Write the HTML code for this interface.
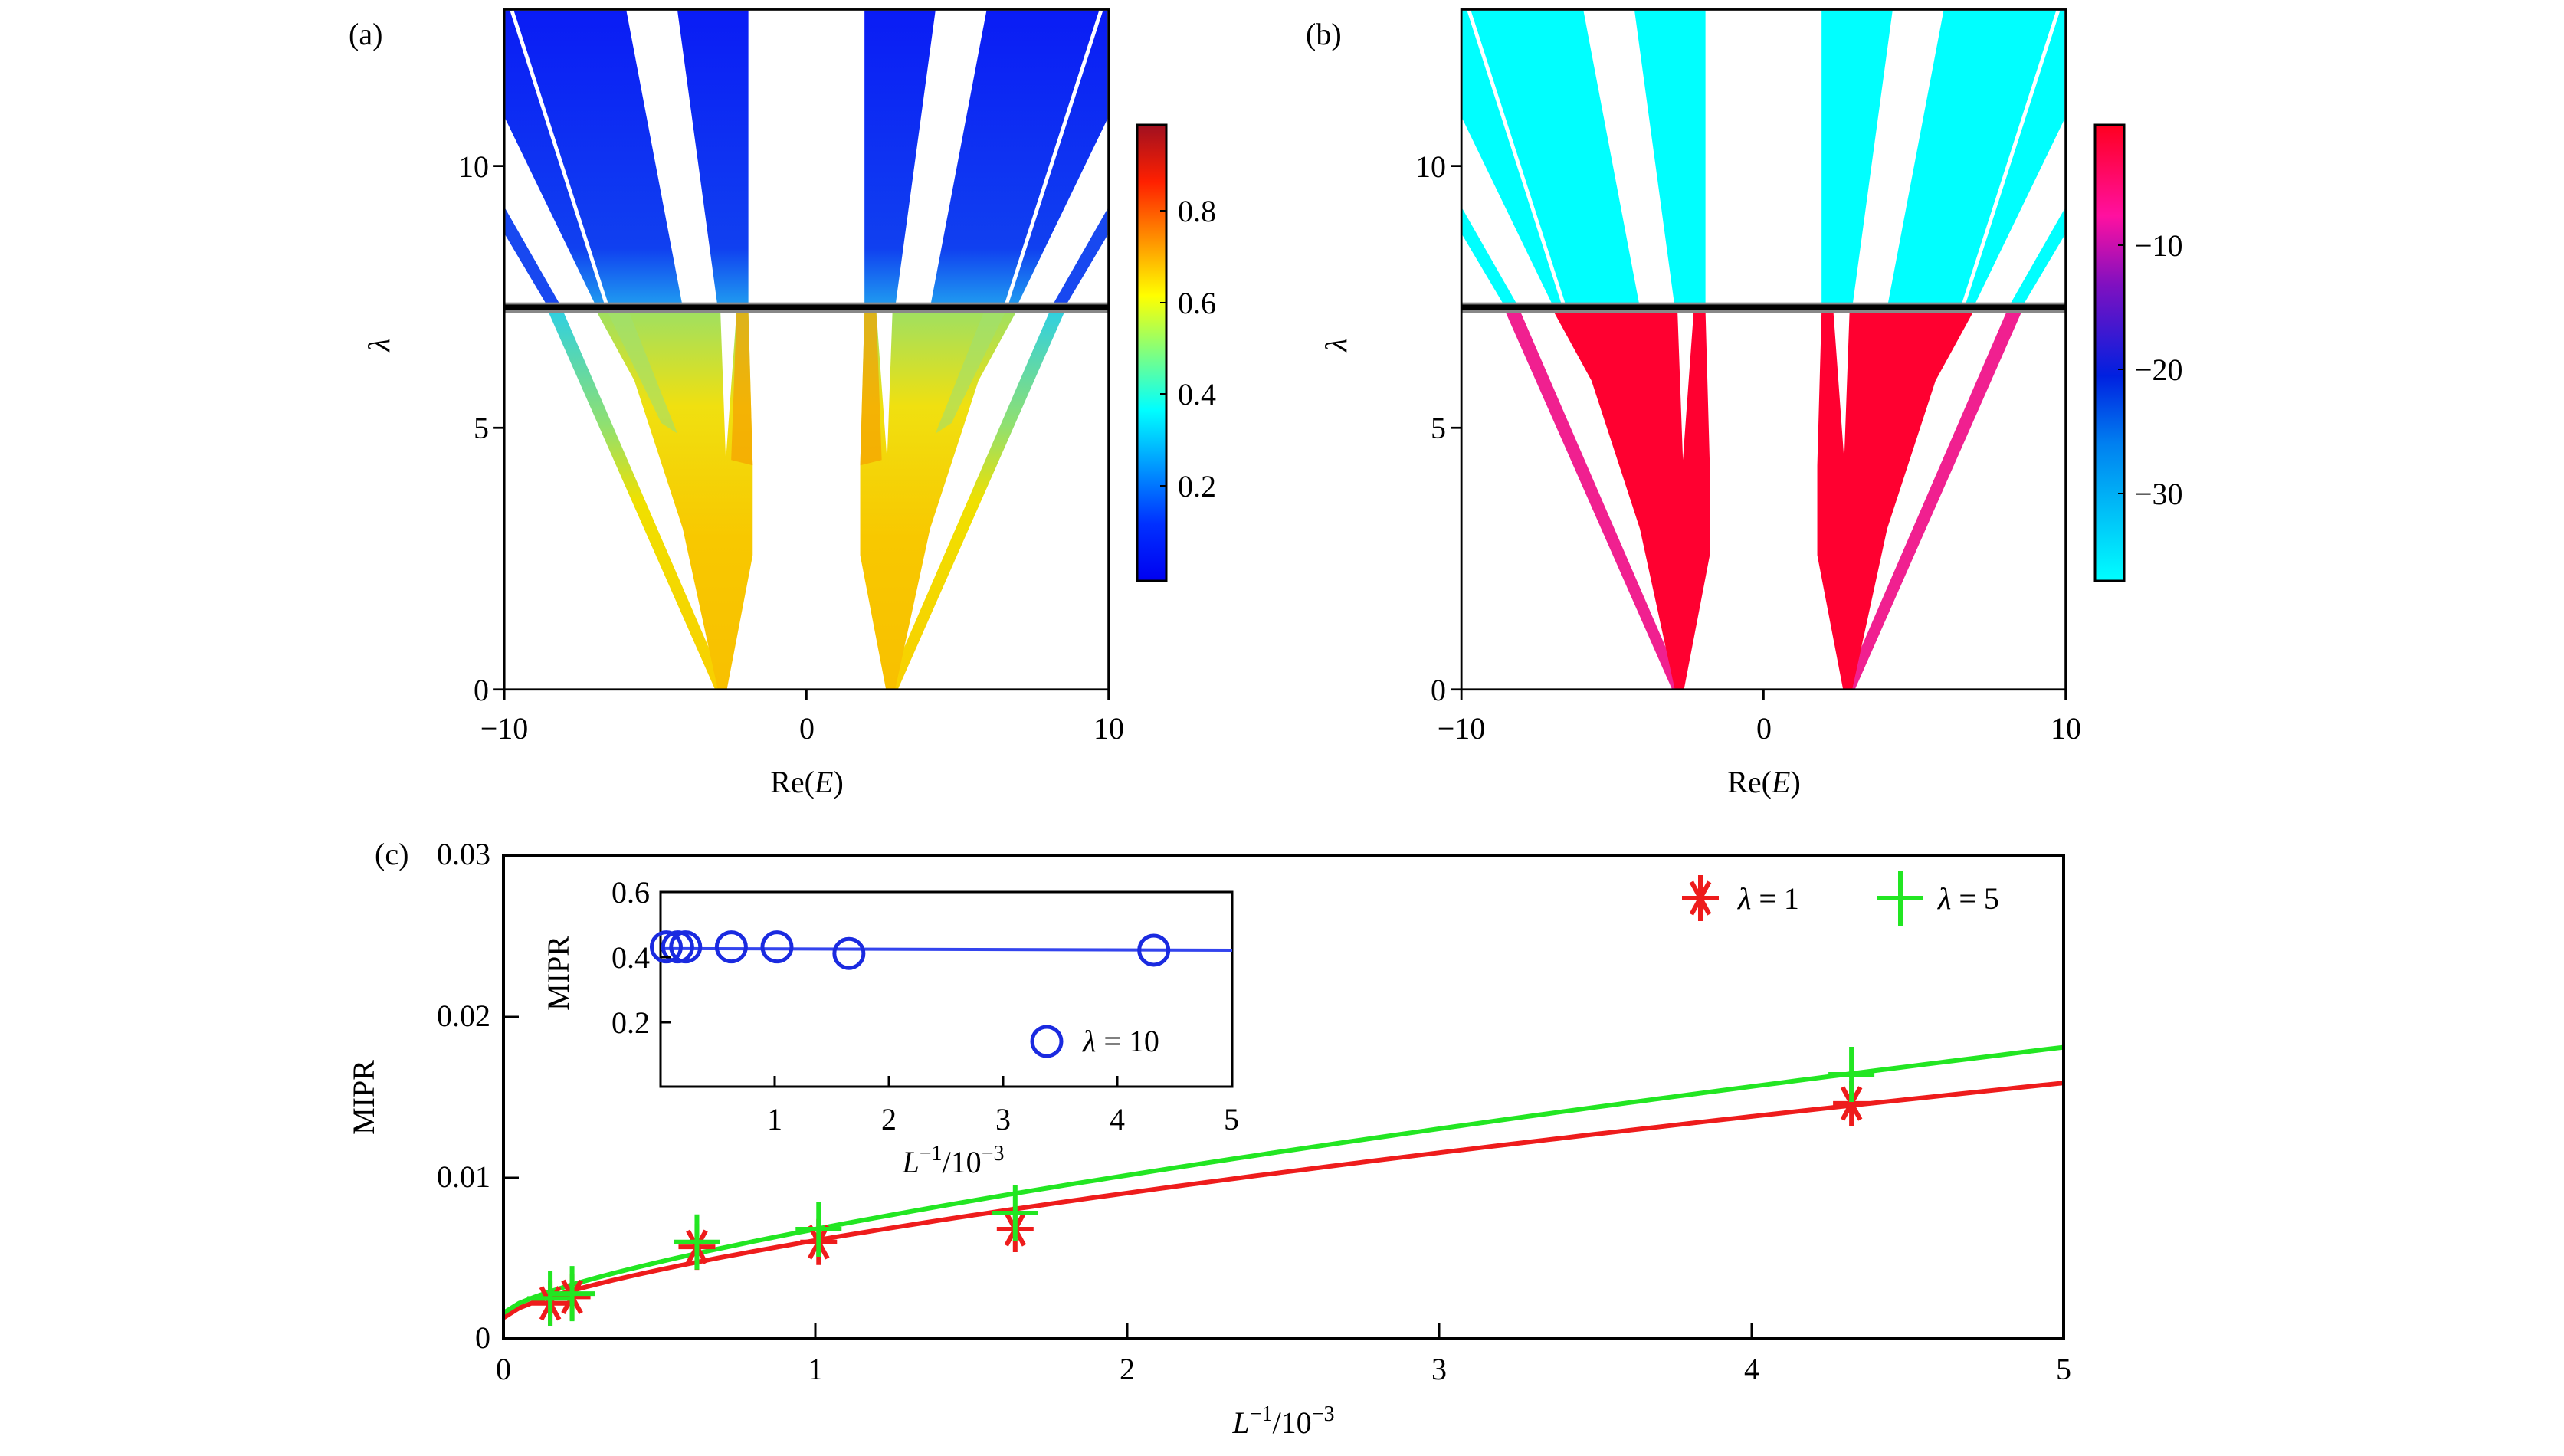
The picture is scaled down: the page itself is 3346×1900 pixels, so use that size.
<!DOCTYPE html>
<html><head><meta charset="utf-8"><style>
html,body{margin:0;padding:0;background:#fff}
svg{display:block}
text{font-family:"Liberation Serif",serif;fill:#000}
</style></head><body>
<svg id="s" width="3346" height="1900" viewBox="0 0 3346 1900" xmlns="http://www.w3.org/2000/svg">
<defs>
<linearGradient id="blueA" x1="0" y1="0" x2="0" y2="1"><stop offset="0" stop-color="#0a1cf5"/><stop offset="0.8" stop-color="#1040f0"/><stop offset="1" stop-color="#20a0f0"/></linearGradient>
<linearGradient id="yelA" x1="0" y1="0" x2="0" y2="1"><stop offset="0" stop-color="#a0e060"/><stop offset="0.25" stop-color="#f0e010"/><stop offset="0.6" stop-color="#f8c800"/><stop offset="1" stop-color="#f8c000"/></linearGradient>
<linearGradient id="thinA" x1="0" y1="0" x2="0" y2="1"><stop offset="0" stop-color="#30d0e0"/><stop offset="0.3" stop-color="#90e070"/><stop offset="0.5" stop-color="#f0e000"/><stop offset="1" stop-color="#f8d000"/></linearGradient>
<linearGradient id="jet" x1="0" y1="1" x2="0" y2="0"><stop offset="0" stop-color="#0000f0"/><stop offset="0.125" stop-color="#0030ff"/><stop offset="0.375" stop-color="#00ffff"/><stop offset="0.625" stop-color="#ffff00"/><stop offset="0.875" stop-color="#ff2000"/><stop offset="1" stop-color="#a01020"/></linearGradient>
<linearGradient id="cb2" x1="0" y1="1" x2="0" y2="0"><stop offset="0" stop-color="#00ffff"/><stop offset="0.3" stop-color="#0080f0"/><stop offset="0.45" stop-color="#0020e0"/><stop offset="0.65" stop-color="#8010c0"/><stop offset="0.8" stop-color="#ff10a0"/><stop offset="1" stop-color="#ff0020"/></linearGradient>
<clipPath id="clipP"><rect x="368" y="18" width="1124" height="1286"/></clipPath>
<g id="halfA">
 <polygon points="370,20 595,20 700,582 540,582 370,225" fill="url(#blueA)"/>
 <polygon points="690,20 822,20 822,582 765,582" fill="url(#blueA)"/>
 <polygon points="370,395 370,445 450,582 475,582" fill="#1848f0"/>
 <line x1="382" y1="20" x2="560" y2="582" stroke="#fff" stroke-width="7"/>
 <polygon points="450,590 478,590 782,1304 760,1304" fill="url(#thinA)"/>
 <polygon points="540,590 770,590 780,870 800,590 822,590 830,880 830,1050 782,1304 765,1304 700,1000 610,720" fill="url(#yelA)"/>
 <polygon points="560,590 600,590 690,820 660,800" fill="#a0e070" opacity="0.6"/>
 <polygon points="800,590 822,590 830,880 790,870" fill="#f5a000" opacity="0.7"/>
</g>
<g id="halfB">
 <polygon points="370,20 595,20 700,582 540,582 370,225" fill="#00ffff"/>
 <polygon points="690,20 822,20 822,582 765,582" fill="#00ffff"/>
 <polygon points="370,395 370,445 450,582 475,582" fill="#00ffff"/>
 <line x1="382" y1="20" x2="560" y2="582" stroke="#fff" stroke-width="7"/>
 <polygon points="450,590 478,590 782,1304 760,1304" fill="#f02090"/>
 <polygon points="540,590 770,590 780,870 800,590 822,590 830,880 830,1050 782,1304 765,1304 700,1000 610,720" fill="#ff0030"/>
</g>
</defs>

<!-- Panel a -->
<g transform="translate(400,0) scale(0.7015,0.690)">
 <g clip-path="url(#clipP)">
  <use href="#halfA"/>
  <use href="#halfA" transform="translate(1860,0) scale(-1,1)"/>
  <rect x="368" y="572" width="1124" height="20" fill="#888"/>
  <rect x="368" y="576" width="1124" height="10" fill="#000"/>
 </g>
 <rect x="368" y="18" width="1124" height="1286" fill="none" stroke="#000" stroke-width="4"/>
 <path d="M348,1304H368M348,809H368M348,314H368M368,1304V1324M930,1304V1324M1492,1304V1324" stroke="#000" stroke-width="4"/>
</g>
<!-- Panel b -->
<g transform="translate(1649,0) scale(0.7015,0.690)">
 <g clip-path="url(#clipP)">
  <use href="#halfB"/>
  <use href="#halfB" transform="translate(1860,0) scale(-1,1)"/>
  <rect x="368" y="572" width="1124" height="20" fill="#888"/>
  <rect x="368" y="576" width="1124" height="10" fill="#000"/>
 </g>
 <rect x="368" y="18" width="1124" height="1286" fill="none" stroke="#000" stroke-width="4"/>
 <path d="M348,1304H368M348,809H368M348,314H368M368,1304V1324M930,1304V1324M1492,1304V1324" stroke="#000" stroke-width="4"/>
</g>

<g font-size="40">
 <text x="455" y="58">(a)</text>
 <text x="638" y="231" text-anchor="end">10</text>
 <text x="638" y="572" text-anchor="end">5</text>
 <text x="638" y="914" text-anchor="end">0</text>
 <text x="658" y="964" text-anchor="middle">−10</text>
 <text x="1053" y="964" text-anchor="middle">0</text>
 <text x="1447" y="964" text-anchor="middle">10</text>
 <text x="1053" y="1034" text-anchor="middle">Re(<tspan font-style="italic">E</tspan>)</text>
 <text transform="translate(508,450) rotate(-90)" text-anchor="middle" font-style="italic">λ</text>

 <text x="1704" y="58">(b)</text>
 <text x="1887" y="231" text-anchor="end">10</text>
 <text x="1887" y="572" text-anchor="end">5</text>
 <text x="1887" y="914" text-anchor="end">0</text>
 <text x="1907" y="964" text-anchor="middle">−10</text>
 <text x="2302" y="964" text-anchor="middle">0</text>
 <text x="2696" y="964" text-anchor="middle">10</text>
 <text x="2302" y="1034" text-anchor="middle">Re(<tspan font-style="italic">E</tspan>)</text>
 <text transform="translate(1757,450) rotate(-90)" text-anchor="middle" font-style="italic">λ</text>
</g>

<!-- colorbars -->
<rect x="1484" y="163" width="38" height="595" fill="url(#jet)" stroke="#000" stroke-width="3"/>
<path d="M1514,634H1522M1514,514H1522M1514,395H1522M1514,275H1522" stroke="#000" stroke-width="2"/>
<g font-size="40"><text x="1537" y="648">0.2</text><text x="1537" y="528">0.4</text><text x="1537" y="409">0.6</text><text x="1537" y="289">0.8</text></g>
<rect x="2734" y="163" width="38" height="595" fill="url(#cb2)" stroke="#000" stroke-width="3"/>
<path d="M2764,320H2772M2764,482H2772M2764,644H2772" stroke="#000" stroke-width="2"/>
<g font-size="40"><text x="2786" y="334">−10</text><text x="2786" y="496">−20</text><text x="2786" y="658">−30</text></g>

<!-- Panel c -->
<g id="pc"></g>
<rect x="657" y="1116" width="2036" height="631" fill="none" stroke="#000" stroke-width="4"/>
<path d="M1064,1747V1727M1471,1747V1727M1878,1747V1727M2286,1747V1727M657,1537H677M657,1327H677" stroke="#000" stroke-width="3"/>
<g font-size="40">
 <text x="489" y="1128">(c)</text>
 <text x="640" y="1128" text-anchor="end">0.03</text>
 <text x="640" y="1339" text-anchor="end">0.02</text>
 <text x="640" y="1549" text-anchor="end">0.01</text>
 <text x="640" y="1759" text-anchor="end">0</text>
 <text x="657" y="1800" text-anchor="middle">0</text>
 <text x="1064" y="1800" text-anchor="middle">1</text>
 <text x="1471" y="1800" text-anchor="middle">2</text>
 <text x="1878" y="1800" text-anchor="middle">3</text>
 <text x="2286" y="1800" text-anchor="middle">4</text>
 <text x="2693" y="1800" text-anchor="middle">5</text>
 <text x="1675" y="1870" text-anchor="middle"><tspan font-style="italic">L</tspan><tspan font-size="28" dy="-16">−1</tspan><tspan dy="16">/10</tspan><tspan font-size="28" dy="-16">−3</tspan></text>
 <text transform="translate(488,1432) rotate(-90)" text-anchor="middle">MIPR</text>
 <text x="2268" y="1186" font-style="italic">λ<tspan font-style="normal"> = 1</tspan></text>
 <text x="2529" y="1186" font-style="italic">λ<tspan font-style="normal"> = 5</tspan></text>
</g>
<!-- inset -->
<rect x="862" y="1164" width="746" height="254" fill="#fff" stroke="#000" stroke-width="3"/>
<g id="ins"></g>
<path d="M1011,1418V1404M1160,1418V1404M1309,1418V1404M1458,1418V1404M862,1334H876M862,1249H876" stroke="#000" stroke-width="3"/>
<g font-size="40">
 <text x="848" y="1178" text-anchor="end">0.6</text>
 <text x="848" y="1263" text-anchor="end">0.4</text>
 <text x="848" y="1348" text-anchor="end">0.2</text>
 <text x="1011" y="1474" text-anchor="middle">1</text>
 <text x="1160" y="1474" text-anchor="middle">2</text>
 <text x="1309" y="1474" text-anchor="middle">3</text>
 <text x="1458" y="1474" text-anchor="middle">4</text>
 <text x="1607" y="1474" text-anchor="middle">5</text>
 <text x="1244" y="1530" text-anchor="middle"><tspan font-style="italic">L</tspan><tspan font-size="28" dy="-16">−1</tspan><tspan dy="16">/10</tspan><tspan font-size="28" dy="-16">−3</tspan></text>
 <text transform="translate(742,1270) rotate(-90)" text-anchor="middle">MIPR</text>
 <text x="1413" y="1372" font-style="italic">λ<tspan font-style="normal"> = 10</tspan></text>
</g>
<script>
(function(){
var NS="http://www.w3.org/2000/svg";
function el(p,t,a){var e=document.createElementNS(NS,t);for(var k in a)e.setAttribute(k,a[k]);p.appendChild(e);return e;}
var pc=document.getElementById('pc'),ins=document.getElementById('ins'),s=document.getElementById('s');
function X(x){return 657+x*407.2;} function Y(y){return 1747-y*21033;}
function curve(a,b,p,c){var d="";for(var i=0;i<=100;i++){var x=5*i/100;d+=(i?"L":"M")+X(x).toFixed(1)+","+Y(a+b*Math.pow(x,p)).toFixed(1);}el(pc,'path',{d:d,fill:'none',stroke:c,'stroke-width':6});}
curve(0.0013,0.0048,0.69,'#ee1c1c');
curve(0.0016,0.0052,0.717,'#22e622');
function star(g,cx,cy,r,c){var d="";for(var i=0;i<4;i++){var a=i*Math.PI/4+Math.PI/2;var dx=r*0.55*Math.cos(a),dy=r*Math.sin(a);if(i==0){dx=0;dy=r;}if(i==2){dx=r*0.8;dy=0;}d+="M"+(cx-dx)+","+(cy-dy)+"L"+(cx+dx)+","+(cy+dy);}el(g,'path',{d:d,stroke:c,'stroke-width':6,fill:'none'});}
function plus(g,cx,cy,w,h,c){el(g,'path',{d:"M"+(cx-w)+","+cy+"H"+(cx+w)+"M"+cx+","+(cy-h)+"V"+(cy+h),stroke:c,'stroke-width':6,fill:'none'});}
var xs=[0.15,0.22,0.62,1.01,1.64,4.32],yr=[0.0022,0.0026,0.0057,0.006,0.0068,0.0146],yg=[0.0025,0.0028,0.006,0.0068,0.0078,0.0164];
for(var i=0;i<6;i++){star(pc,X(xs[i]),Y(yr[i]),30,'#ee1c1c');}
for(var i=0;i<6;i++){plus(pc,X(xs[i]),Y(yg[i]),30,36,'#22e622');}
star(s,2219,1172,30,'#ee1c1c');plus(s,2480,1172,30,36,'#22e622');
function IX(x){return 862+x*149;} function IY(y){return 1163+(0.6-y)*427.5;}
el(ins,'line',{x1:862,y1:IY(0.425),x2:1608,y2:IY(0.42),stroke:'#3344ee','stroke-width':4});
var ix=[0.05,0.15,0.22,0.62,1.02,1.65,4.32],iy=[0.43,0.43,0.43,0.43,0.43,0.41,0.42];
for(var i=0;i<7;i++)el(ins,'ellipse',{cx:IX(ix[i]),cy:IY(iy[i]),rx:19,ry:19,fill:'none',stroke:'#1a2ae0','stroke-width':5});
el(s,'ellipse',{cx:1366,cy:1359,rx:19,ry:19,fill:'none',stroke:'#1a2ae0','stroke-width':5});
})();
</script>
</svg>
</body></html>
